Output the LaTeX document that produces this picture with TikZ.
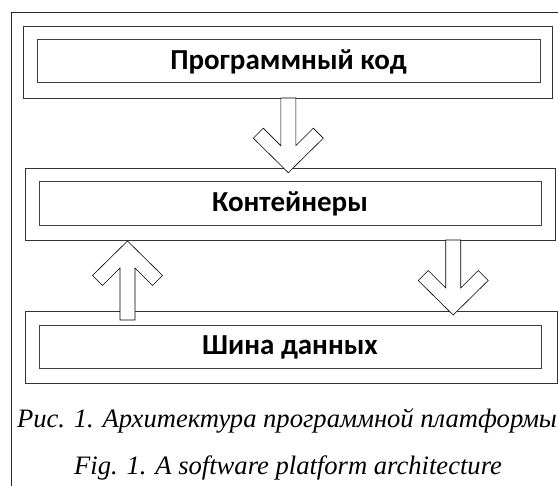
\documentclass[tikz,border=0pt]{standalone}
\usepackage{fontspec}
\setmainfont{Liberation Serif}
\newfontfamily\boxfont{Carlito}
\usetikzlibrary{calc}
\tikzset{
  outerbox/.style={draw=black!80, line width=0.8pt, fill=white, inner sep=0pt},
  innerbox/.style={draw=black!75, line width=1pt, inner sep=0pt, font=\boxfont\bfseries\fontsize{29}{34}\selectfont},
  barrow/.style={draw=black, line width=0.6pt, fill=white, line join=miter},
  captxt/.style={font=\itshape\fontsize{26.6}{32}\selectfont, inner sep=0pt, anchor=base}
}
\newcommand\dnblock[2]{\draw[barrow] let \p1=(#1), \p2=(#2) in
  (\x2-7.5pt,\y1) -- (\x2-7.5pt,\y2+27pt) -- (\x2-25pt,\y2+44.5pt) -- (\x2-35pt,\y2+34.5pt) -- (\x2,\y2)
  -- (\x2+35pt,\y2+34.5pt) -- (\x2+25pt,\y2+44.5pt) -- (\x2+7.5pt,\y2+27pt) -- (\x2+7.5pt,\y1) -- cycle;}
\newcommand\upblock[2]{\draw[barrow] let \p1=(#1), \p2=(#2) in
  (\x2-7.5pt,\y1) -- (\x2-7.5pt,\y2-27pt) -- (\x2-25pt,\y2-44.5pt) -- (\x2-35pt,\y2-34.5pt) -- (\x2,\y2)
  -- (\x2+35pt,\y2-34.5pt) -- (\x2+25pt,\y2-44.5pt) -- (\x2+7.5pt,\y2-27pt) -- (\x2+7.5pt,\y1) -- cycle;}
\begin{document}
\begin{tikzpicture}[x=1pt,y=-1pt]
\useasboundingbox (0,0) rectangle (558,486);
\fill[white] (0,0) rectangle (558,486);
% frame
\draw[black!85, line width=1pt] (11,486) -- (11,13) -- (558,13);
% boxes
\node[outerbox, minimum width=529pt, minimum height=72pt] (topout) at (287.5,62) {};
\node[innerbox, minimum width=503pt, minimum height=43pt] (topin) at (288.5,61.5) {Программный код};
\node[outerbox, minimum width=530pt, minimum height=72pt] (midout) at (290,204) {};
\node[innerbox, minimum width=502pt, minimum height=44pt] (midin) at (290,204) {Контейнеры};
\node[outerbox, minimum width=532pt, minimum height=71.5pt] (botout) at (291,347.25) {};
\node[innerbox, minimum width=502pt, minimum height=43pt] (botin) at (290,347.5) {Шина данных};
% arrow endpoints
\coordinate (a1s) at (288.3,98);
\coordinate (a1e) at (288.3,172.7);
\coordinate (a2s) at (127.5,320);
\coordinate (a2e) at (127.5,241);
\coordinate (a3s) at (453.2,240);
\coordinate (a3e) at (453.2,315);
\dnblock{a1s}{a1e}
\upblock{a2s}{a2e}
\dnblock{a3s}{a3e}
% captions
\node[captxt] (cap1) at (287,428) {Рис. 1. Архитектура программной платформы};
\node[captxt] (cap2) at (288,475) {Fig. 1. A software platform architecture};
\end{tikzpicture}
\end{document}
